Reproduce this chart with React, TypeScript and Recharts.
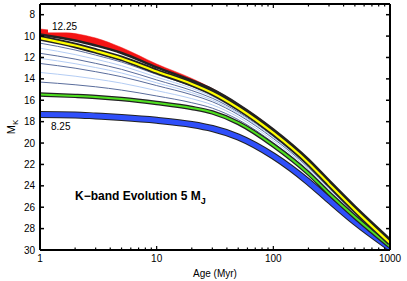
import { ComposedChart, Line, Area, XAxis, YAxis } from "recharts";

const ages = [1, 2, 3, 5, 10, 20, 30, 50, 100, 200, 300, 500, 1000];

const redTop = [9.34, 9.76, 10.18, 11.07, 12.61, 13.96, 14.9, 16.35, 18.68, 21.49, 23.45, 25.88, 28.96];
const redBottom = [9.85, 10.41, 10.88, 11.58, 12.93, 14.15, 14.99, 16.39, 18.73, 21.53, 23.5, 25.93, 29.01];
const yellow = [10.18, 10.88, 11.39, 12.09, 13.31, 14.48, 15.32, 16.72, 19.06, 21.86, 23.82, 26.25, 29.34];
const thinA = [10.66, 11.3, 11.78, 12.43, 13.58, 14.68, 15.48, 16.85, 19.16, 21.95, 23.9, 26.31, 29.37];
const thinB = [11.13, 11.73, 12.16, 12.77, 13.84, 14.88, 15.65, 16.97, 19.27, 22.04, 23.98, 26.37, 29.4];
const thinC = [11.61, 12.15, 12.55, 13.11, 14.1, 15.09, 15.81, 17.1, 19.37, 22.13, 24.06, 26.43, 29.43];
const thinD = [12.08, 12.58, 12.94, 13.45, 14.37, 15.29, 15.98, 17.22, 19.48, 22.21, 24.14, 26.49, 29.46];
const thinE = [12.56, 13.0, 13.33, 13.8, 14.63, 15.49, 16.14, 17.35, 19.58, 22.3, 24.22, 26.55, 29.48];
const thinF = [13.4, 13.75, 14.01, 14.4, 15.1, 15.85, 16.43, 17.57, 19.77, 22.46, 24.36, 26.65, 29.54];
const thinG = [14.3, 14.55, 14.74, 15.05, 15.6, 16.23, 16.74, 17.81, 19.97, 22.62, 24.51, 26.77, 29.59];
const green = [15.46, 15.59, 15.69, 15.88, 16.25, 16.72, 17.14, 18.12, 20.22, 22.84, 24.71, 26.91, 29.66];
const blue = [17.33, 17.37, 17.47, 17.61, 17.87, 18.26, 18.64, 19.43, 21.21, 23.64, 25.32, 27.37, 29.8];

const yTicks = [8, 10, 12, 14, 16, 18, 20, 22, 24, 26, 28, 30];
const xMajor = [1, 10, 100, 1000];
const xTicks = [
  1, 2, 3, 4, 5, 6, 7, 8, 9, 10, 20, 30, 40, 50, 60, 70, 80, 90, 100, 200, 300, 400, 500, 600, 700,
  800, 900, 1000,
];

const thinKeys = ["thinA", "thinB", "thinC", "thinD", "thinE", "thinF", "thinG"];
const thinSets = [thinA, thinB, thinC, thinD, thinE, thinF, thinG];
const DARK_THIN = "#5a6d9c";
const LIGHT_THIN = "#b4cdf4";

const data = ages.map((age, i) => {
  const row: any = {
    age,
    red: [redTop[i], redBottom[i]],
    redBottom: redBottom[i],
    yellow: yellow[i],
    green: green[i],
    blue: blue[i],
  };
  thinKeys.forEach((k, j) => (row[k] = thinSets[j][i]));
  return row;
});

const FONT = "'Liberation Sans', Arial, Helvetica, sans-serif";

function LeftTick({ x, y, payload }: any) {
  return (
    <g>
      <line x1={x + 5} x2={x + 9} y1={y} y2={y} stroke="#000" strokeWidth={1.5} />
      <text x={x} y={y} dy="0.35em" textAnchor="end" fontSize={10} fontFamily={FONT} fill="#000">
        {payload.value}
      </text>
    </g>
  );
}

function RightTick({ x, y }: any) {
  return <line x1={x} x2={x - 4} y1={y} y2={y} stroke="#000" strokeWidth={1.5} />;
}

function BottomTick({ x, y, payload }: any) {
  const major = xMajor.includes(payload.value);
  const ax = y - 5;
  return (
    <g>
      <line x1={x} x2={x} y1={ax} y2={ax - (major ? 4 : 2.5)} stroke="#000" strokeWidth={1.2} />
      {major && (
        <text x={x} y={ax + 12} textAnchor="middle" fontSize={10} fontFamily={FONT} fill="#000">
          {payload.value}
        </text>
      )}
    </g>
  );
}

function TopTick({ x, y, payload }: any) {
  const major = xMajor.includes(payload.value);
  return <line x1={x} x2={x} y1={y} y2={y + (major ? 4 : 2.5)} stroke="#000" strokeWidth={1.2} />;
}

export default function App() {
  return (
    <div style={{ position: "relative", width: 407, height: 281, background: "#fff" }}>
      <style>{"body{margin:0}"}</style>
      <ComposedChart width={407} height={281} data={data} margin={{ top: 3, right: 16, bottom: 0, left: 0 }}>
        <XAxis
          dataKey="age"
          type="number"
          scale="log"
          domain={[1, 1000]}
          allowDataOverflow
          ticks={xTicks}
          interval={0}
          height={31}
          tickSize={0}
          tickMargin={5}
          tick={<BottomTick />}
          axisLine={{ stroke: "#000", strokeWidth: 2 }}
        />
        <XAxis
          xAxisId="top"
          orientation="top"
          dataKey="age"
          type="number"
          scale="log"
          domain={[1, 1000]}
          allowDataOverflow
          ticks={xTicks}
          interval={0}
          height={1}
          tickSize={0}
          tickMargin={0}
          tick={<TopTick />}
          axisLine={{ stroke: "#000", strokeWidth: 2 }}
        />
        <YAxis
          reversed
          type="number"
          domain={[7, 30]}
          allowDataOverflow
          ticks={yTicks}
          interval={0}
          width={40}
          tickSize={0}
          tickMargin={5}
          tick={<LeftTick />}
          axisLine={{ stroke: "#000", strokeWidth: 2 }}
        />
        <YAxis
          yAxisId="right"
          orientation="right"
          reversed
          type="number"
          domain={[7, 30]}
          allowDataOverflow
          ticks={yTicks}
          interval={0}
          width={1}
          tickSize={0}
          tickMargin={0}
          tick={<RightTick />}
          axisLine={{ stroke: "#000", strokeWidth: 2 }}
        />
        <Line
          xAxisId="top"
          yAxisId="right"
          dataKey="blue"
          stroke="none"
          dot={false}
          isAnimationActive={false}
        />
        <Area
          type="monotone"
          dataKey="red"
          fill="#f41414"
          fillOpacity={1}
          stroke="#f41414"
          strokeWidth={0.5}
          isAnimationActive={false}
        />
        {thinKeys.map((k, j) => (
          <Line
            key={k}
            type="monotone"
            dataKey={k}
            stroke={j % 2 === 0 ? DARK_THIN : LIGHT_THIN}
            strokeWidth={1}
            dot={false}
            isAnimationActive={false}
          />
        ))}
        <Line type="monotone" dataKey="blue" stroke="#222" strokeWidth={7} dot={false} isAnimationActive={false} />
        <Line type="monotone" dataKey="blue" stroke="#2f4ffa" strokeWidth={5} dot={false} isAnimationActive={false} />
        <Line type="monotone" dataKey="green" stroke="#222" strokeWidth={4.5} dot={false} isAnimationActive={false} />
        <Line type="monotone" dataKey="green" stroke="#4fe020" strokeWidth={2} dot={false} isAnimationActive={false} />
        <Line type="monotone" dataKey="redBottom" stroke="#222" strokeWidth={2.5} dot={false} isAnimationActive={false} />
        <Line type="monotone" dataKey="yellow" stroke="#222" strokeWidth={5.5} dot={false} isAnimationActive={false} />
        <Line type="monotone" dataKey="yellow" stroke="#ffff00" strokeWidth={2.2} dot={false} isAnimationActive={false} />
      </ComposedChart>
      <svg
        width={407}
        height={281}
        style={{ position: "absolute", left: 0, top: 0, pointerEvents: "none" }}
        fontFamily={FONT}
      >
        <rect x={48} y={19} width={29} height={13.5} fill="#fff" />
        <text x={52} y={30} fontSize={10} fill="#000">
          12.25
        </text>
        <text x={51} y={130} fontSize={10} fill="#000">
          8.25
        </text>
        <text x={75} y={200} fontSize={12} fontWeight="bold" fill="#000">
          K−band Evolution 5 M
          <tspan fontSize={9} dy={4}>
            J
          </tspan>
        </text>
        <text x={215} y={277} fontSize={10} textAnchor="middle" fill="#000">
          Age (Myr)
        </text>
        <text transform="translate(15,127) rotate(-90)" fontSize={11} textAnchor="middle" fill="#000">
          M
          <tspan fontSize={8} dy={3}>
            K
          </tspan>
        </text>
      </svg>
    </div>
  );
}
